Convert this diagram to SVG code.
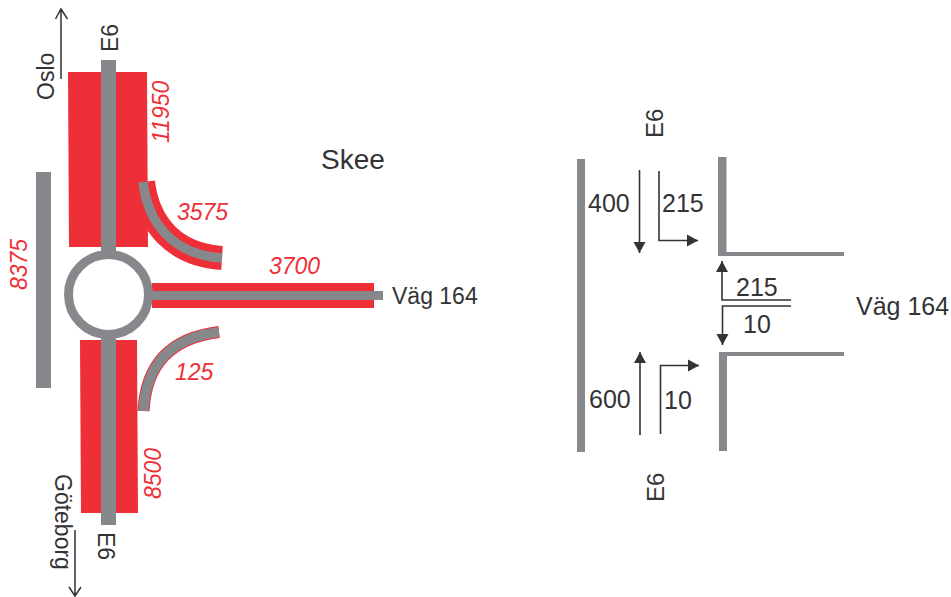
<svg xmlns="http://www.w3.org/2000/svg" width="951" height="597" viewBox="0 0 951 597">
<defs>
<style>
text{font-family:"Liberation Sans",Arial,sans-serif;}
.t{font-size:23px;fill:#333335;}
.t2{font-size:25px;fill:#333335;}
.v{font-size:23px;font-style:italic;fill:#EE2F38;}
.r{fill:#EE2F38;}
.g{fill:#87888C;}
.rs{fill:none;stroke:#EE2F38;}
.gs{fill:none;stroke:#87888C;}
.a{fill:none;stroke:#333335;stroke-width:1.5;}
.b{fill:none;stroke:#333335;stroke-width:1.6;}
.h{fill:#333335;}
</style>
<marker id="ah" markerUnits="userSpaceOnUse" markerWidth="13" markerHeight="13" refX="11" refY="6.500" orient="auto"><path class="h" d="M0,0.500L11,6.500L0,12.500z"/></marker>
</defs>
<rect width="951" height="597" fill="#fff"/>
<g id="road-network">
<path class="r" d="M68,72L147,72L148,247L69,247z"/>
<path class="r" d="M80,340L137,340L138,513L81,513z"/>
<rect class="r" x="152" y="283" width="222" height="25"/>
<path class="rs" stroke-width="24" d="M143,182C148,225 175,255 222,258"/>
<path class="rs" stroke-width="12" d="M143.500,411C146,365 170,338 219,332"/>
<path class="gs" stroke-width="9.500" d="M143,182C148,225 175,255 222,258"/>
<path class="gs" stroke-width="10" d="M143.500,411C146,365 170,338 219,332"/>
<rect class="g" x="101" y="60" width="15" height="195"/>
<rect class="g" x="101" y="335" width="15" height="190"/>
<rect class="g" x="150" y="291" width="233" height="9"/>
<rect class="g" x="36" y="172" width="15" height="216"/>
<circle class="gs" cx="108.500" cy="294.500" r="40" stroke-width="9"/>
</g>
<g id="left-labels">
<text class="t" transform="translate(118,52) rotate(-90)">E6</text>
<text class="t" transform="translate(54,100) rotate(-90)">Oslo</text>
<text class="t" transform="translate(98,532) rotate(90)">E6</text>
<text class="t" transform="translate(55,474) rotate(90)">Göteborg</text>
<text class="t" x="392" y="304">Väg 164</text>
<text x="321" y="169" style="font-size:28px;fill:#333335">Skee</text>
<text class="v" transform="translate(169,143) rotate(-90)">11950</text>
<text class="v" x="177" y="220">3575</text>
<text class="v" transform="translate(27,290) rotate(-90)">8375</text>
<text class="v" x="269" y="274">3700</text>
<text class="v" x="175" y="380">125</text>
<text class="v" transform="translate(161,499) rotate(-90)">8500</text>
</g>
<g id="direction-arrows">
<path class="a" d="M61,79V9M55.500,19L61,9L67.500,19"/>
<path class="a" d="M75,530V595M69,587L75,596L81,587"/>
</g>
<g id="junction-kerbs">
<rect class="g" x="577" y="159" width="8" height="293"/>
<path class="g" d="M718,157H726.500V252H844V256H718z"/>
<path class="g" d="M719,352H844V356H727V451H719z"/>
</g>
<g id="turning-connectors">
<path class="b" marker-end="url(#ah)" d="M639.500,170V253"/>
<path class="b" marker-end="url(#ah)" d="M659,171V240.500H698"/>
<path class="b" marker-end="url(#ah)" d="M791,300H722V261"/>
<path class="b" marker-end="url(#ah)" d="M791,306H722.500V345"/>
<path class="b" marker-end="url(#ah)" d="M640,435V352"/>
<path class="b" marker-end="url(#ah)" d="M660.500,434V365.500H699"/>
</g>
<g id="right-labels">
<text class="t" style="font-size:24px" transform="translate(663,138) rotate(-90)">E6</text>
<text class="t" style="font-size:24px" transform="translate(664,502) rotate(-90)">E6</text>
<text class="t2" x="588" y="212">400</text>
<text class="t2" x="662" y="212">215</text>
<text class="t2" x="736" y="296">215</text>
<text class="t2" x="743" y="333">10</text>
<text class="t2" x="589" y="408">600</text>
<text class="t2" x="664" y="409">10</text>
<text class="t2" x="856" y="315">Väg 164</text>
</g>
</svg>
